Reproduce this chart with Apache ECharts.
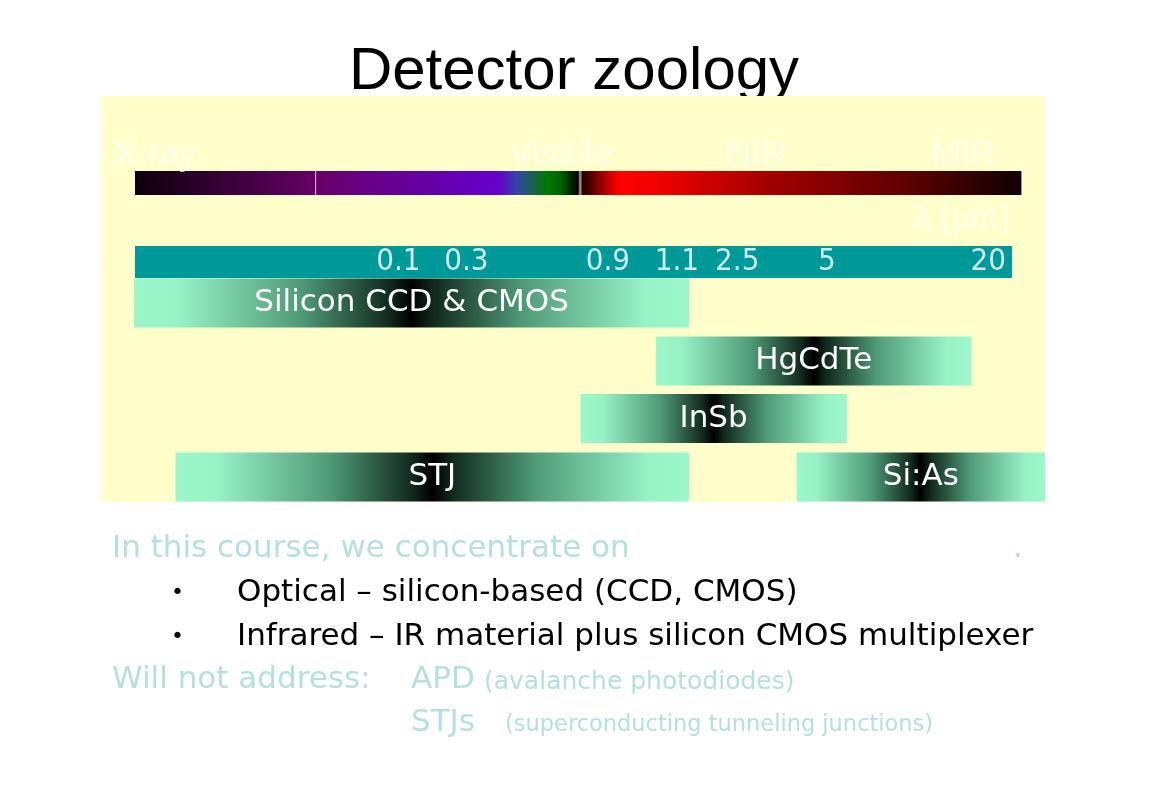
<!DOCTYPE html>
<html><head><meta charset="utf-8">
<script src="https://cdn.jsdelivr.net/npm/echarts@6/dist/echarts.min.js"></script>
<style>html,body{margin:0;padding:0;background:#fff}#c{width:1149px;height:808px}</style>
</head><body><div id="c"></div>
<script>
// ---- data ----
const titleText = 'Detector zoology';
const regionNames = ['X-ray', 'Visible', 'NIR', 'MIR'];
const regionPos = [5.7, 48.7, 69.4, 91.4];
const regionRow = 1.03;
const unitLabel = 'λ [µm]';
const unitPos = [91.2, 2.14];
const tickLabels = ['0.1', '0.3', '0.9', '1.1', '2.5', '5', '20'];
const tickPos = [31.5, 38.7, 53.7, 61.0, 67.4, 76.9, 94.0];
const spectrumRange = [3.6, 97.5];
const spectrumRow = 1.5;
const scaleRange = [3.6, 96.5];
const scaleRow = 2.862;
const detectorNames = ['Silicon CCD & CMOS', 'HgCdTe', 'InSb', 'STJ', 'Si:As'];
const detectorStart = [3.5, 58.8, 50.8, 7.9, 73.7];
const detectorEnd = [62.3, 92.2, 79.0, 62.3, 100];
const detectorRow = [3.57, 4.57, 5.56, 6.57, 6.57];
const courseLine = 'In this course, we concentrate on';
const bulletLines = ['Optical – silicon-based (CCD, CMOS)', 'Infrared – IR material plus silicon CMOS multiplexer'];
const notAddress = 'Will not address:';
const skipNames = ['APD', 'STJs'];
const skipNotes = ['(avalanche photodiodes)', '(superconducting tunneling junctions)'];

// ---- styles ----
const COMIC = "'DejaVu Sans', sans-serif";
const NARROW = "'DejaVu Sans Condensed', 'DejaVu Sans', sans-serif";
const ARIAL = "'Liberation Sans', Arial, sans-serif";
const PALE = '#b4e0e0';
const spectrumStops = [
  [0, '#0c000c'], [0.203, '#650065'], [0.2035, '#e0b0e0'], [0.205, '#680068'],
  [0.41, '#6600cc'], [0.43, '#3344aa'], [0.465, '#007a00'], [0.48, '#006400'],
  [0.5, '#000000'], [0.502, '#c8a0a0'], [0.505, '#200000'], [0.545, '#ff0000'],
  [0.59, '#f20000'], [0.72, '#a00000'], [0.87, '#600000'], [1, '#100000']
].map(s => ({offset: s[0], color: s[1]}));
const detStops = [
  [0, '#9cf7cb'], [0.08, '#97f2c6'], [0.3, '#4f9b78'], [0.46, '#112a1e'],
  [0.5, '#000000'], [0.54, '#112a1e'], [0.7, '#4f9b78'], [0.92, '#97f2c6'], [1, '#9cf7cb']
].map(s => ({offset: s[0], color: s[1]}));

function rectItem(api, s, e, row, h) {
  const p0 = api.coord([s, row]);
  const p1 = api.coord([e, row]);
  const hh = api.size([0, h])[1];
  return {x: p0[0], y: p0[1] - hh / 2, width: p1[0] - p0[0], height: hh};
}
function txt(x, y, text, color, size, family) {
  return {type: 'text', z: 0, x: x, y: y, style: {text: text, fill: color, font: size + 'px ' + (family || COMIC), verticalAlign: 'middle'}};
}

const chart = echarts.init(document.getElementById('c'));
const option = {
  animation: false,
  backgroundColor: '#ffffff',
  grid: {left: 101, top: 96, width: 944, height: 406, show: false},
  xAxis: {type: 'value', min: 0, max: 100, show: false},
  yAxis: {type: 'value', min: 0, max: 7, inverse: true, show: false},
  graphic: {elements: [
    {type: 'text', z: 0, x: 574, y: 72, style: {text: titleText, fill: '#000', font: '60px ' + ARIAL, align: 'center', verticalAlign: 'middle'}},
    {type: 'rect', z: 1, shape: {x: 101, y: 96, width: 944, height: 406}, style: {fill: '#ffffcc'}},
    txt(112, 549, courseLine, PALE, 31),
    txt(1013, 549, '.', PALE, 31),
    txt(171, 593, '•', '#000', 22),
    txt(237, 593, bulletLines[0], '#000', 31),
    txt(171, 637, '•', '#000', 22),
    txt(237, 637, bulletLines[1], '#000', 31),
    txt(112, 680, notAddress, PALE, 31),
    txt(411, 680, skipNames[0], PALE, 31),
    txt(484, 682, skipNotes[0], PALE, 25),
    txt(411, 723, skipNames[1], PALE, 31),
    txt(505, 725, skipNotes[1], PALE, 22.5)
  ]},
  series: [
    {
      type: 'custom', z: 3,
      data: [[spectrumRange[0], spectrumRange[1], spectrumRow]],
      renderItem: (params, api) => ({
        type: 'rect',
        shape: rectItem(api, api.value(0), api.value(1), api.value(2), 0.414),
        style: {fill: {type: 'linear', x: 0, y: 0, x2: 1, y2: 0, colorStops: spectrumStops}}
      })
    },
    {
      type: 'custom', z: 3,
      data: [[scaleRange[0], scaleRange[1], scaleRow]],
      renderItem: (params, api) => ({
        type: 'rect',
        shape: rectItem(api, api.value(0), api.value(1), api.value(2), 0.552),
        style: {fill: '#009999'}
      })
    },
    {
      type: 'custom', z: 3,
      data: detectorNames.map((n, i) => [detectorStart[i], detectorEnd[i], detectorRow[i], n]),
      renderItem: (params, api) => {
        const r = rectItem(api, api.value(0), api.value(1), api.value(2), 0.845);
        return {type: 'group', children: [
          {type: 'rect', shape: r, style: {fill: {type: 'linear', x: 0, y: 0, x2: 1, y2: 0, colorStops: detStops}}},
          {type: 'text', x: r.x + r.width / 2, y: r.y + r.height / 2, style: {text: detectorNames[params.dataIndex], fill: '#ffffff', font: '31px ' + COMIC, align: 'center', verticalAlign: 'middle'}}
        ]};
      }
    },
    {
      type: 'scatter', z: 5, symbolSize: 1, itemStyle: {color: 'rgba(0,0,0,0)'},
      data: tickPos.map((x, i) => [x, scaleRow, tickLabels[i]]),
      label: {show: true, position: 'inside', formatter: p => p.value[2], color: '#ffffff', fontSize: 31, fontFamily: NARROW}
    },
    {
      type: 'scatter', z: 5, symbolSize: 1, itemStyle: {color: 'rgba(0,0,0,0)'},
      data: regionNames.map((n, i) => [regionPos[i], regionRow, n]),
      label: {show: true, position: 'inside', formatter: p => p.value[2], color: '#fffff0', fontSize: 35, fontFamily: ARIAL}
    },
    {
      type: 'scatter', z: 5, symbolSize: 1, itemStyle: {color: 'rgba(0,0,0,0)'},
      data: [[unitPos[0], unitPos[1], unitLabel]],
      label: {show: true, position: 'inside', formatter: p => p.value[2], color: '#fffff0', fontSize: 32, fontFamily: NARROW}
    }
  ]
};
chart.setOption(option);
</script></body></html>
